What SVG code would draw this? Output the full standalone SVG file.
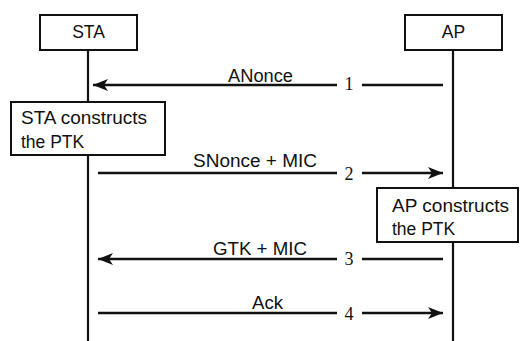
<svg xmlns="http://www.w3.org/2000/svg" width="521" height="341" viewBox="0 0 521 341">
<defs>
<style>
.box{fill:#fff;stroke:#111;stroke-width:2}
.life{stroke:#111;stroke-width:2.2}
.msg{stroke:#111;stroke-width:2.5;fill:none}
.t{font-family:"Liberation Sans",Arial,sans-serif;font-size:17.5px;fill:#111}
.n{font-family:"Liberation Serif","Times New Roman",serif;font-size:18px;fill:#111;text-anchor:middle}
.c{text-anchor:middle}
</style>
<marker id="ah" markerUnits="userSpaceOnUse" markerWidth="18" markerHeight="14" viewBox="-16 -7 18 14" refX="0" refY="0" orient="auto">
<path d="M0,0 L-15,-6 L-11,0 L-15,6 Z" fill="#111"/>
</marker>
</defs>
<rect width="521" height="341" fill="#fff"/>
<g id="lifelines">
<line class="life" x1="88" y1="50" x2="88" y2="341"/>
<line class="life" x1="453" y1="50" x2="453" y2="341"/>
</g>
<g id="connectors">
<line class="msg" x1="337" y1="85" x2="93" y2="85" marker-end="url(#ah)"/>
<line class="msg" x1="443" y1="85" x2="362" y2="85"/>
<text class="t" x="228" y="82" textLength="65" lengthAdjust="spacingAndGlyphs">ANonce</text>
<text class="n" x="349" y="90">1</text>
<line class="msg" x1="98" y1="173" x2="337" y2="173"/>
<line class="msg" x1="362" y1="173" x2="443" y2="173" marker-end="url(#ah)"/>
<text class="t" x="193" y="167" textLength="124" lengthAdjust="spacingAndGlyphs">SNonce + MIC</text>
<text class="n" x="349" y="180">2</text>
<line class="msg" x1="337" y1="259" x2="98" y2="259" marker-end="url(#ah)"/>
<line class="msg" x1="443" y1="259" x2="362" y2="259"/>
<text class="t" x="213" y="255" textLength="94" lengthAdjust="spacingAndGlyphs">GTK + MIC</text>
<text class="n" x="349" y="265">3</text>
<line class="msg" x1="98" y1="313" x2="337" y2="313"/>
<line class="msg" x1="362" y1="313" x2="443" y2="313" marker-end="url(#ah)"/>
<text class="t" x="252" y="309" textLength="31" lengthAdjust="spacingAndGlyphs">Ack</text>
<text class="n" x="349" y="320">4</text>
</g>
<g id="sta">
<rect class="box" x="40" y="15" width="97" height="35"/>
<text class="t c" x="88.5" y="38">STA</text>
</g>
<g id="ap">
<rect class="box" x="405" y="15" width="97" height="35"/>
<text class="t c" x="453.5" y="38">AP</text>
</g>
<g id="sta-ptk">
<rect class="box" x="11" y="102" width="154" height="53"/>
<text class="t" x="21" y="124" textLength="126" lengthAdjust="spacingAndGlyphs">STA constructs</text>
<text class="t" x="21" y="148">the PTK</text>
</g>
<g id="ap-ptk">
<rect class="box" x="377" y="188" width="141" height="54"/>
<text class="t" x="392" y="212" textLength="117" lengthAdjust="spacingAndGlyphs">AP constructs</text>
<text class="t" x="392" y="235">the PTK</text>
</g>
</svg>
